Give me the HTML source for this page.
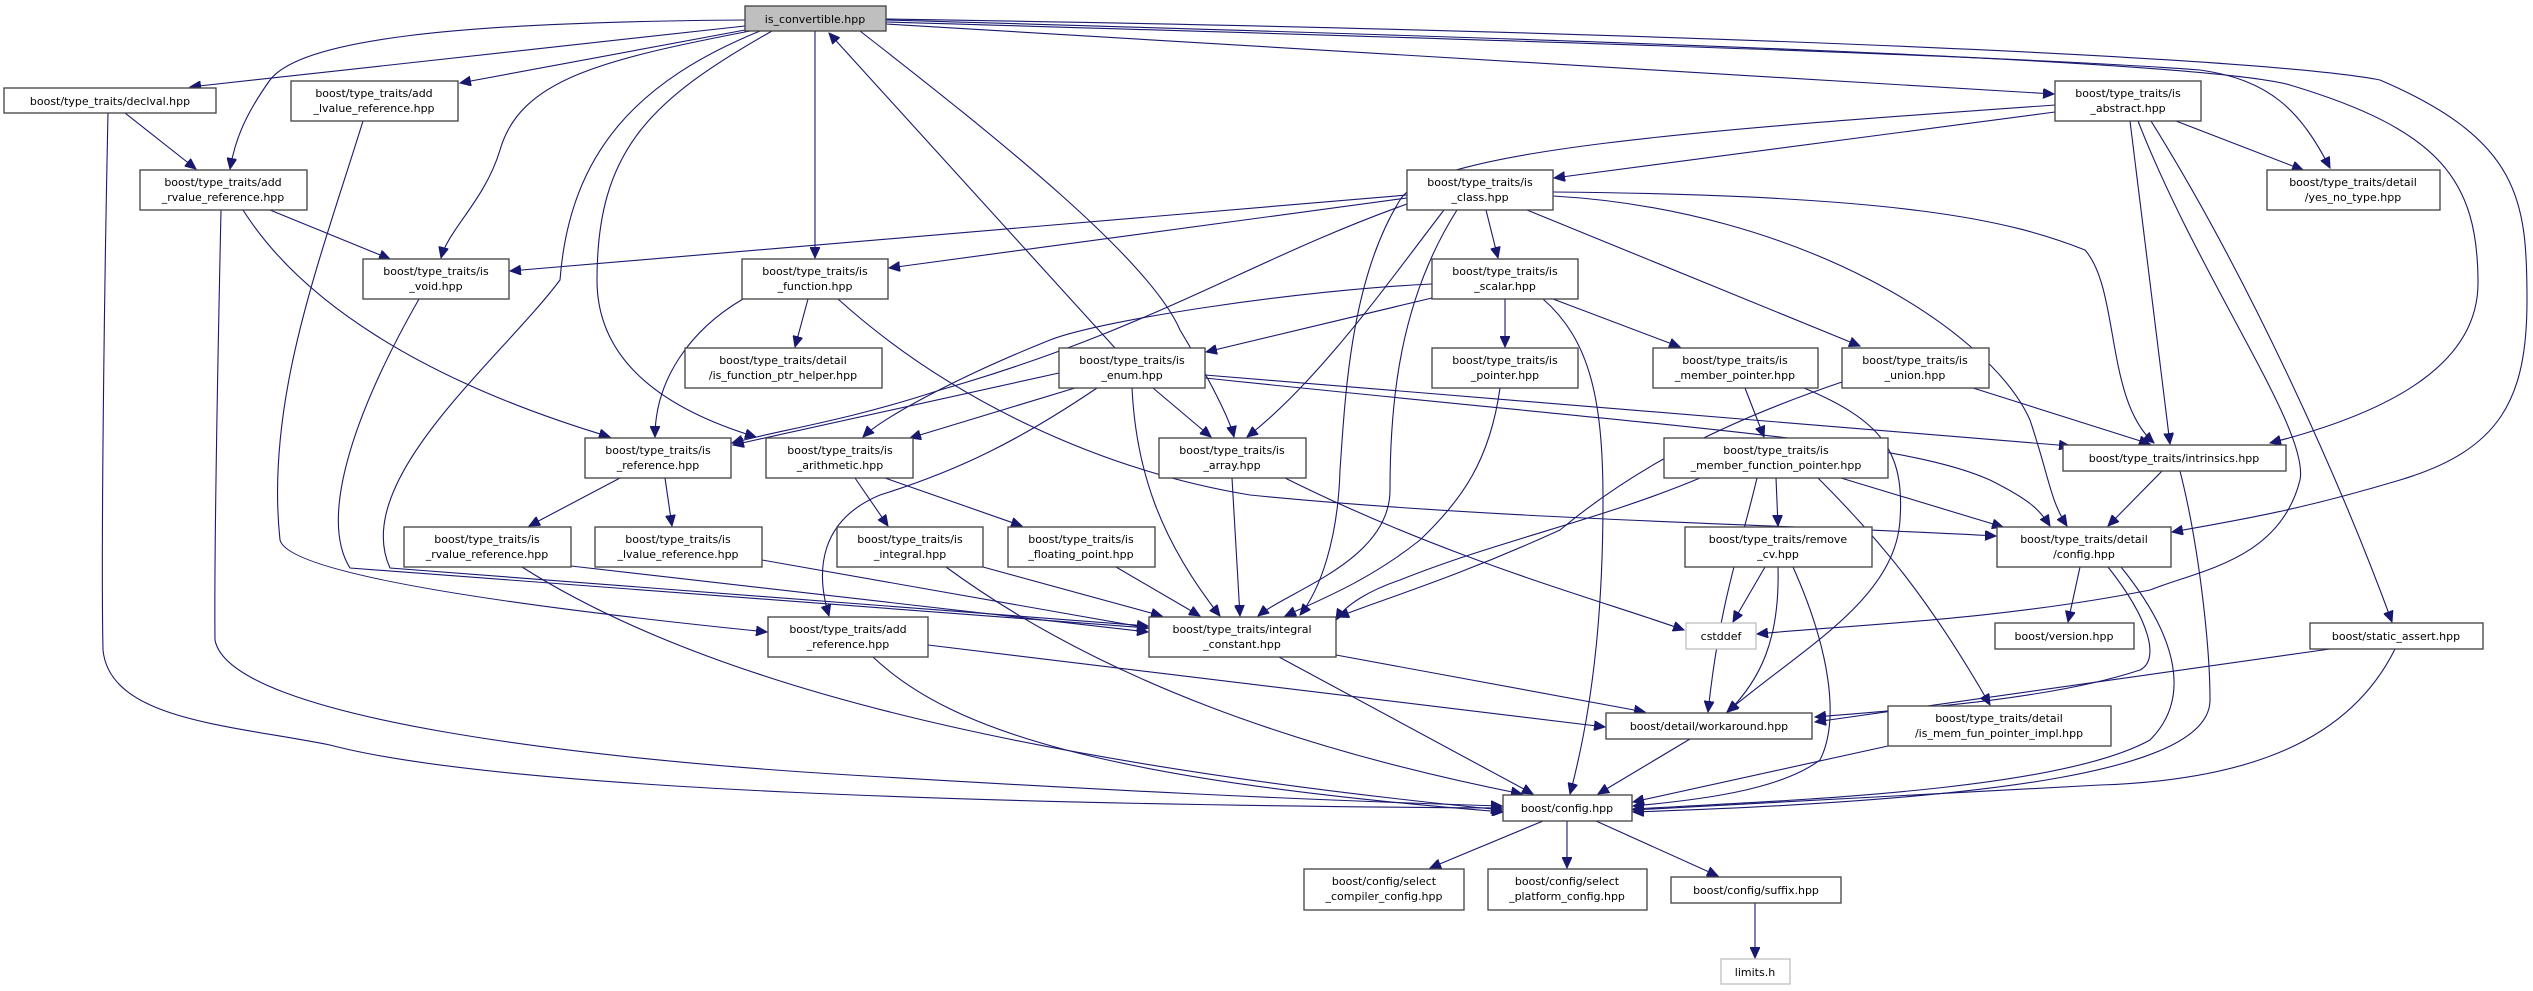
<!DOCTYPE html>
<html><head><meta charset="utf-8"><style>
html,body{margin:0;padding:0;background:#fff;}
svg{display:block;}
text{font-family:"DejaVu Sans","Liberation Sans",sans-serif;font-size:11px;fill:#000;text-anchor:middle;}
.n{fill:#fff;stroke:#404040;stroke-width:1.3;}
.g{fill:#fff;stroke:#bfbfbf;stroke-width:1.3;}
.e{fill:none;stroke:#191970;stroke-width:1.1;marker-end:url(#a);}
</style></head><body>
<svg width="2533" height="991" viewBox="0 0 2533 991" xmlns="http://www.w3.org/2000/svg">
<defs><marker id="a" markerUnits="userSpaceOnUse" markerWidth="12" markerHeight="10" refX="11" refY="5" orient="auto"><path d="M0,0 L11,5 L0,10 z" fill="#191970" stroke="#191970"/></marker></defs>
<g>
<path class="e" d="M745,26 L190,87"/>
<path class="e" d="M745,30 L460,83"/>
<path class="e" d="M745,20 C450,22 300,40 270,80 C245,115 235,140 230,169"/>
<path class="e" d="M750,31 C600,60 520,80 500,150 C485,200 448,230 441,258"/>
<path class="e" d="M815,31 L815,258"/>
<path class="e" d="M772,31 C650,100 597,150 597,280 C597,380 700,420 756,437"/>
<path class="e" d="M363,121 C320,260 265,400 280,540 C290,580 600,615 767,632"/>
<path class="e" d="M419,299 C350,420 320,520 350,568 L1148,628"/>
<path class="e" d="M760,31 C640,80 570,150 560,280 C500,360 350,480 390,568 L1148,626"/>
<path class="e" d="M108,113 C104,300 101,560 103,650 C110,720 230,725 330,745 C500,790 1000,805 1502,808"/>
<path class="e" d="M221,210 C218,350 214,550 215,640 C230,720 600,760 850,775 C1100,790 1300,800 1502,806"/>
<path class="e" d="M125,113 L196,169"/>
<path class="e" d="M270,210 L390,259"/>
<path class="e" d="M243,210 C300,300 420,380 610,437"/>
<path class="e" d="M808,299 L795,347"/>
<path class="e" d="M743,299 C690,330 655,380 655,437"/>
<path class="e" d="M838,299 C950,400 1100,470 1250,495 C1500,520 1800,525 1996,536"/>
<path class="e" d="M620,478 L529,526"/>
<path class="e" d="M665,478 L672,526"/>
<path class="e" d="M571,566 L1148,632"/>
<path class="e" d="M522,567 C700,680 1000,760 1502,810"/>
<path class="e" d="M762,560 L1148,628"/>
<path class="e" d="M855,478 L888,526"/>
<path class="e" d="M885,478 L1022,526"/>
<path class="e" d="M983,567 L1162,616"/>
<path class="e" d="M946,567 C1100,680 1300,750 1522,794"/>
<path class="e" d="M1116,567 L1200,616"/>
<path class="e" d="M1407,198 L889,268"/>
<path class="e" d="M1407,195 L510,271"/>
<path class="e" d="M1407,204 C1250,260 1150,330 940,390 C850,420 780,430 732,443"/>
<path class="e" d="M1444,210 C1390,280 1320,380 1247,437"/>
<path class="e" d="M1486,210 L1498,258"/>
<path class="e" d="M1457,210 C1400,300 1390,400 1390,490 C1390,560 1290,590 1258,616"/>
<path class="e" d="M1527,210 L1860,346"/>
<path class="e" d="M1553,192 C1900,195 2010,220 2085,250 C2120,290 2105,400 2154,443"/>
<path class="e" d="M1553,196 C1800,210 1990,330 2030,420 C2050,480 2050,500 2067,526"/>
<path class="e" d="M2055,112 L1554,178"/>
<path class="e" d="M2055,105 C1700,130 1430,150 1400,200 C1350,280 1345,400 1340,470 C1338,540 1320,590 1300,615"/>
<path class="e" d="M2176,121 L2303,170"/>
<path class="e" d="M2130,121 L2170,444"/>
<path class="e" d="M2138,121 C2200,280 2310,430 2300,480 C2280,560 2200,570 2150,590 C2000,620 1850,625 1757,634"/>
<path class="e" d="M2151,121 C2250,280 2340,480 2392,622"/>
<path class="e" d="M886,22 C1500,40 2000,55 2200,70 C2270,80 2300,110 2330,168"/>
<path class="e" d="M886,20 C1600,40 2200,60 2290,85 C2440,130 2478,180 2478,283 C2478,360 2400,410 2270,443"/>
<path class="e" d="M886,19 C1600,30 2250,55 2380,80 C2520,140 2527,200 2527,300 C2527,400 2500,450 2400,480 C2300,510 2240,520 2172,532"/>
<path class="e" d="M886,24 L2054,94"/>
<path class="e" d="M860,31 C1000,140 1150,260 1180,330 C1210,380 1230,420 1234,437"/>
<path class="e" d="M1115,348 L829,33"/>
<path class="e" d="M1432,284 C1300,290 1100,320 1050,340 C950,380 880,420 863,437"/>
<path class="e" d="M1432,298 L1206,352"/>
<path class="e" d="M1505,299 L1505,347"/>
<path class="e" d="M1553,299 L1680,347"/>
<path class="e" d="M1543,299 C1590,340 1603,400 1603,500 C1603,600 1595,700 1570,794"/>
<path class="e" d="M1059,373 L733,445"/>
<path class="e" d="M1075,388 L910,438"/>
<path class="e" d="M1153,388 L1211,437"/>
<path class="e" d="M1097,388 C1020,440 960,470 880,495 C820,520 815,570 829,616"/>
<path class="e" d="M1132,388 C1136,470 1160,540 1220,616"/>
<path class="e" d="M1205,375 L2070,446"/>
<path class="e" d="M1205,378 C1700,430 1900,440 1990,480 C2030,500 2040,510 2050,526"/>
<path class="e" d="M1500,388 C1490,460 1462,500 1420,540 C1370,580 1320,600 1285,616"/>
<path class="e" d="M1745,388 L1764,437"/>
<path class="e" d="M1804,388 C1880,420 1905,450 1900,520 C1895,600 1800,650 1727,712"/>
<path class="e" d="M1973,388 L2150,444"/>
<path class="e" d="M1842,382 C1700,430 1620,480 1560,530 C1450,580 1380,600 1338,617"/>
<path class="e" d="M1232,478 L1240,616"/>
<path class="e" d="M1285,478 C1450,560 1600,600 1684,630"/>
<path class="e" d="M1776,478 L1778,526"/>
<path class="e" d="M1841,478 L2003,527"/>
<path class="e" d="M1700,478 C1600,520 1500,540 1400,580 C1370,590 1345,605 1336,620"/>
<path class="e" d="M1757,478 C1740,550 1720,600 1708,712"/>
<path class="e" d="M1818,478 C1880,540 1930,600 1990,705"/>
<path class="e" d="M1765,567 L1733,622"/>
<path class="e" d="M1778,567 C1780,640 1760,680 1728,712"/>
<path class="e" d="M1793,567 C1830,650 1840,720 1820,760 C1780,790 1700,800 1633,806"/>
<path class="e" d="M2080,567 L2068,622"/>
<path class="e" d="M2108,567 C2150,620 2160,660 2140,670 C2050,700 1900,710 1815,717"/>
<path class="e" d="M2121,567 C2180,640 2190,700 2150,740 C2060,790 1800,800 1633,809"/>
<path class="e" d="M2162,471 L2108,526"/>
<path class="e" d="M2180,471 C2200,550 2210,650 2210,700 C2210,770 2000,800 1633,812"/>
<path class="e" d="M928,645 L1605,727"/>
<path class="e" d="M873,657 C950,730 1100,780 1503,812"/>
<path class="e" d="M1336,655 L1645,712"/>
<path class="e" d="M1279,657 L1533,794"/>
<path class="e" d="M2330,649 L1815,722"/>
<path class="e" d="M2395,649 C2350,740 2250,780 2100,785 C1900,795 1750,805 1633,810"/>
<path class="e" d="M1690,739 L1598,794"/>
<path class="e" d="M1888,746 L1633,802"/>
<path class="e" d="M1543,821 L1430,868"/>
<path class="e" d="M1567,821 L1567,868"/>
<path class="e" d="M1596,821 L1718,876"/>
<path class="e" d="M1755,903 L1755,958"/>
</g>
<g>
<rect x="745" y="6" width="141" height="25" fill="#bfbfbf" stroke="#404040" stroke-width="1.3"/><text x="815" y="23">is_convertible.hpp</text>
<rect class="n" x="4" y="88" width="212" height="25"/><text x="110" y="105">boost/type_traits/declval.hpp</text>
<rect class="n" x="291" y="81" width="167" height="40"/><text x="374" y="97">boost/type_traits/add</text><text x="374" y="112">_lvalue_reference.hpp</text>
<rect class="n" x="140" y="170" width="167" height="40"/><text x="223" y="186">boost/type_traits/add</text><text x="223" y="201">_rvalue_reference.hpp</text>
<rect class="n" x="363" y="259" width="146" height="40"/><text x="436" y="275">boost/type_traits/is</text><text x="436" y="290">_void.hpp</text>
<rect class="n" x="742" y="259" width="146" height="40"/><text x="815" y="275">boost/type_traits/is</text><text x="815" y="290">_function.hpp</text>
<rect class="n" x="685" y="348" width="197" height="40"/><text x="783" y="364">boost/type_traits/detail</text><text x="783" y="379">/is_function_ptr_helper.hpp</text>
<rect class="n" x="585" y="438" width="146" height="40"/><text x="658" y="454">boost/type_traits/is</text><text x="658" y="469">_reference.hpp</text>
<rect class="n" x="766" y="438" width="147" height="40"/><text x="840" y="454">boost/type_traits/is</text><text x="840" y="469">_arithmetic.hpp</text>
<rect class="n" x="1407" y="170" width="146" height="40"/><text x="1480" y="186">boost/type_traits/is</text><text x="1480" y="201">_class.hpp</text>
<rect class="n" x="1432" y="259" width="146" height="40"/><text x="1505" y="275">boost/type_traits/is</text><text x="1505" y="290">_scalar.hpp</text>
<rect class="n" x="1059" y="348" width="146" height="40"/><text x="1132" y="364">boost/type_traits/is</text><text x="1132" y="379">_enum.hpp</text>
<rect class="n" x="1432" y="348" width="146" height="40"/><text x="1505" y="364">boost/type_traits/is</text><text x="1505" y="379">_pointer.hpp</text>
<rect class="n" x="1653" y="348" width="165" height="40"/><text x="1735" y="364">boost/type_traits/is</text><text x="1735" y="379">_member_pointer.hpp</text>
<rect class="n" x="1842" y="348" width="147" height="40"/><text x="1915" y="364">boost/type_traits/is</text><text x="1915" y="379">_union.hpp</text>
<rect class="n" x="1159" y="438" width="147" height="40"/><text x="1232" y="454">boost/type_traits/is</text><text x="1232" y="469">_array.hpp</text>
<rect class="n" x="1664" y="438" width="224" height="40"/><text x="1776" y="454">boost/type_traits/is</text><text x="1776" y="469">_member_function_pointer.hpp</text>
<rect class="n" x="2063" y="445" width="223" height="26"/><text x="2174" y="462">boost/type_traits/intrinsics.hpp</text>
<rect class="n" x="2055" y="81" width="146" height="40"/><text x="2128" y="97">boost/type_traits/is</text><text x="2128" y="112">_abstract.hpp</text>
<rect class="n" x="2267" y="170" width="173" height="40"/><text x="2353" y="186">boost/type_traits/detail</text><text x="2353" y="201">/yes_no_type.hpp</text>
<rect class="n" x="404" y="527" width="167" height="40"/><text x="487" y="543">boost/type_traits/is</text><text x="487" y="558">_rvalue_reference.hpp</text>
<rect class="n" x="595" y="527" width="167" height="40"/><text x="678" y="543">boost/type_traits/is</text><text x="678" y="558">_lvalue_reference.hpp</text>
<rect class="n" x="837" y="527" width="146" height="40"/><text x="910" y="543">boost/type_traits/is</text><text x="910" y="558">_integral.hpp</text>
<rect class="n" x="1008" y="527" width="147" height="40"/><text x="1081" y="543">boost/type_traits/is</text><text x="1081" y="558">_floating_point.hpp</text>
<rect class="n" x="1685" y="527" width="187" height="40"/><text x="1778" y="543">boost/type_traits/remove</text><text x="1778" y="558">_cv.hpp</text>
<rect class="n" x="1997" y="527" width="174" height="40"/><text x="2084" y="543">boost/type_traits/detail</text><text x="2084" y="558">/config.hpp</text>
<rect class="n" x="768" y="617" width="160" height="40"/><text x="848" y="633">boost/type_traits/add</text><text x="848" y="648">_reference.hpp</text>
<rect class="n" x="1149" y="617" width="187" height="40"/><text x="1242" y="633">boost/type_traits/integral</text><text x="1242" y="648">_constant.hpp</text>
<rect class="g" x="1686" y="623" width="70" height="26"/><text x="1721" y="640">cstddef</text>
<rect class="n" x="1995" y="623" width="139" height="26"/><text x="2064" y="640">boost/version.hpp</text>
<rect class="n" x="2310" y="623" width="173" height="26"/><text x="2396" y="640">boost/static_assert.hpp</text>
<rect class="n" x="1606" y="713" width="206" height="26"/><text x="1709" y="730">boost/detail/workaround.hpp</text>
<rect class="n" x="1888" y="706" width="223" height="40"/><text x="1999" y="722">boost/type_traits/detail</text><text x="1999" y="737">/is_mem_fun_pointer_impl.hpp</text>
<rect class="n" x="1503" y="795" width="129" height="26"/><text x="1567" y="812">boost/config.hpp</text>
<rect class="n" x="1304" y="869" width="160" height="41"/><text x="1384" y="885">boost/config/select</text><text x="1384" y="900">_compiler_config.hpp</text>
<rect class="n" x="1488" y="869" width="159" height="41"/><text x="1567" y="885">boost/config/select</text><text x="1567" y="900">_platform_config.hpp</text>
<rect class="n" x="1671" y="877" width="170" height="26"/><text x="1756" y="894">boost/config/suffix.hpp</text>
<rect class="g" x="1721" y="959" width="69" height="25"/><text x="1755" y="976">limits.h</text>
</g>
</svg>
</body></html>
